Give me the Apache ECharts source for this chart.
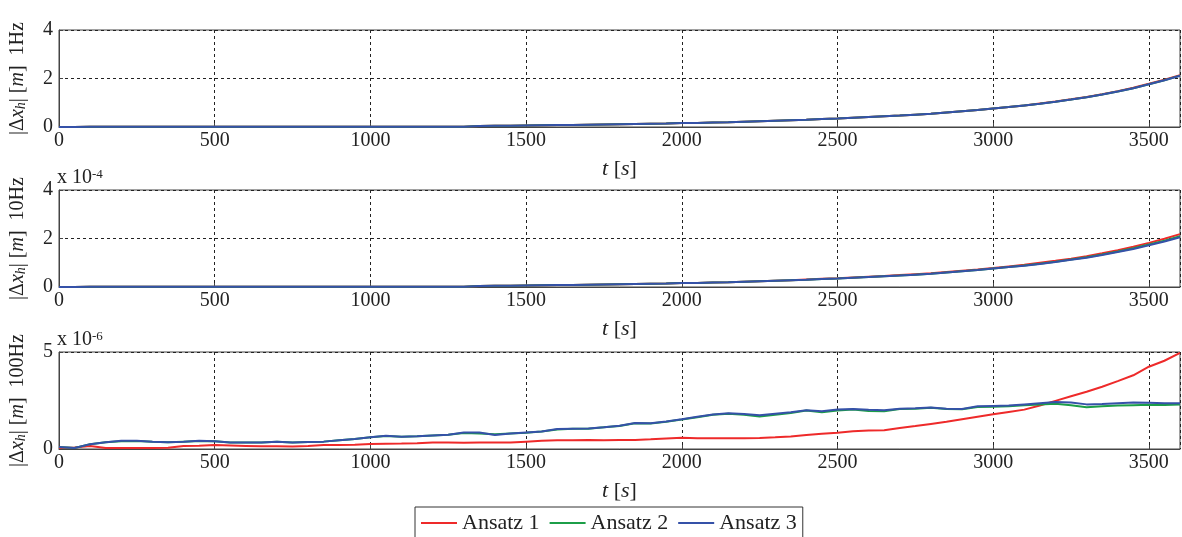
<!DOCTYPE html>
<html>
<head>
<meta charset="utf-8">
<script src="https://cdn.jsdelivr.net/npm/echarts@6/dist/echarts.min.js"></script>
<style>
  html, body { margin: 0; padding: 0; background: #fff; }
  #chart { width: 1182px; height: 537px; }
</style>
</head>
<body>
<div id="chart"></div>
<script>
// time stamps [s]
var times = [0, 50, 100, 150, 200, 250, 300, 350, 400, 450, 500, 550, 600, 650, 700, 750, 800, 850, 900, 950,
  1000, 1050, 1100, 1150, 1200, 1250, 1300, 1350, 1400, 1450, 1500, 1550, 1600, 1650, 1700, 1750, 1800, 1850, 1900, 1950,
  2000, 2050, 2100, 2150, 2200, 2250, 2300, 2350, 2400, 2450, 2500, 2550, 2600, 2650, 2700, 2750, 2800, 2850, 2900, 2950,
  3000, 3050, 3100, 3150, 3200, 3250, 3300, 3350, 3400, 3450, 3500, 3550, 3600];

// 1Hz  [m]
var hz1A1 = [0, 0, 0.01, 0.01, 0.01, 0.01, 0.01, 0.01, 0.01, 0.01, 0.01, 0.01, 0.01, 0.01, 0.01, 0.01, 0.01, 0.01, 0.01, 0.01,
  0.01, 0.01, 0.01, 0.01, 0.01, 0.01, 0.01, 0.04, 0.05, 0.05, 0.06, 0.07, 0.08, 0.08, 0.09, 0.1, 0.11, 0.12, 0.13, 0.14,
  0.16, 0.17, 0.19, 0.2, 0.22, 0.24, 0.26, 0.28, 0.3, 0.33, 0.35, 0.38, 0.41, 0.44, 0.47, 0.51, 0.55, 0.6, 0.65, 0.7,
  0.76, 0.82, 0.89, 0.97, 1.05, 1.14, 1.24, 1.35, 1.48, 1.62, 1.78, 1.95, 2.14];
var hz1A2 = [0, 0, 0.01, 0.01, 0.01, 0.01, 0.01, 0.01, 0.01, 0.01, 0.01, 0.01, 0.01, 0.01, 0.01, 0.01, 0.01, 0.01, 0.01, 0.01,
  0.01, 0.01, 0.01, 0.01, 0.01, 0.01, 0.01, 0.04, 0.05, 0.05, 0.06, 0.07, 0.08, 0.08, 0.09, 0.1, 0.11, 0.12, 0.13, 0.14,
  0.16, 0.17, 0.19, 0.2, 0.22, 0.24, 0.26, 0.28, 0.3, 0.33, 0.35, 0.38, 0.41, 0.44, 0.47, 0.51, 0.55, 0.6, 0.65, 0.7,
  0.76, 0.82, 0.89, 0.96, 1.04, 1.13, 1.23, 1.34, 1.46, 1.6, 1.76, 1.93, 2.12];
var hz1A3 = [0, 0, 0.01, 0.01, 0.01, 0.01, 0.01, 0.01, 0.01, 0.01, 0.01, 0.01, 0.01, 0.01, 0.01, 0.01, 0.01, 0.01, 0.01, 0.01,
  0.01, 0.01, 0.01, 0.01, 0.01, 0.01, 0.01, 0.04, 0.05, 0.05, 0.06, 0.07, 0.08, 0.08, 0.09, 0.1, 0.11, 0.12, 0.13, 0.14,
  0.16, 0.17, 0.19, 0.2, 0.22, 0.24, 0.26, 0.28, 0.3, 0.33, 0.35, 0.38, 0.41, 0.44, 0.47, 0.51, 0.55, 0.6, 0.65, 0.7,
  0.76, 0.82, 0.89, 0.96, 1.04, 1.13, 1.23, 1.34, 1.46, 1.6, 1.76, 1.93, 2.11];

// 10Hz  [x 1e-4 m]
var hz10A1 = [0, 0, 0.01, 0.01, 0.01, 0.01, 0.01, 0.01, 0.01, 0.01, 0.01, 0.01, 0.01, 0.01, 0.01, 0.01, 0.01, 0.01, 0.01, 0.01,
  0.01, 0.01, 0.01, 0.01, 0.01, 0.01, 0.01, 0.04, 0.05, 0.05, 0.06, 0.07, 0.08, 0.08, 0.09, 0.1, 0.11, 0.12, 0.13, 0.14,
  0.16, 0.17, 0.19, 0.2, 0.22, 0.24, 0.26, 0.28, 0.31, 0.34, 0.36, 0.39, 0.42, 0.45, 0.49, 0.53, 0.57, 0.62, 0.67, 0.72,
  0.78, 0.85, 0.92, 1.0, 1.08, 1.17, 1.27, 1.39, 1.52, 1.66, 1.82, 1.99, 2.18];
var hz10A2 = [0, 0, 0.01, 0.01, 0.01, 0.01, 0.01, 0.01, 0.01, 0.01, 0.01, 0.01, 0.01, 0.01, 0.01, 0.01, 0.01, 0.01, 0.01, 0.01,
  0.01, 0.01, 0.01, 0.01, 0.01, 0.01, 0.01, 0.04, 0.05, 0.05, 0.06, 0.07, 0.08, 0.08, 0.09, 0.1, 0.11, 0.12, 0.13, 0.14,
  0.16, 0.17, 0.19, 0.2, 0.22, 0.24, 0.26, 0.28, 0.3, 0.33, 0.35, 0.38, 0.41, 0.44, 0.47, 0.51, 0.55, 0.6, 0.65, 0.7,
  0.76, 0.82, 0.89, 0.96, 1.04, 1.13, 1.23, 1.34, 1.46, 1.6, 1.75, 1.91, 2.09];
var hz10A3 = [0, 0, 0.01, 0.01, 0.01, 0.01, 0.01, 0.01, 0.01, 0.01, 0.01, 0.01, 0.01, 0.01, 0.01, 0.01, 0.01, 0.01, 0.01, 0.01,
  0.01, 0.01, 0.01, 0.01, 0.01, 0.01, 0.01, 0.04, 0.05, 0.05, 0.06, 0.07, 0.08, 0.08, 0.09, 0.1, 0.11, 0.12, 0.13, 0.14,
  0.16, 0.17, 0.19, 0.2, 0.22, 0.24, 0.26, 0.28, 0.3, 0.33, 0.35, 0.38, 0.41, 0.44, 0.47, 0.51, 0.55, 0.6, 0.65, 0.7,
  0.76, 0.82, 0.88, 0.95, 1.03, 1.12, 1.21, 1.32, 1.44, 1.57, 1.72, 1.88, 2.05];

// 100Hz  [x 1e-6 m]
var hz100A1 = [0.05, 0.08, 0.15, 0.05, 0.05, 0.05, 0.05, 0.06, 0.15, 0.17, 0.2, 0.18, 0.16, 0.14, 0.14, 0.13, 0.15, 0.2, 0.2, 0.22,
  0.26, 0.27, 0.28, 0.3, 0.33, 0.33, 0.32, 0.33, 0.33, 0.34, 0.38, 0.42, 0.45, 0.45, 0.47, 0.45, 0.46, 0.47, 0.5, 0.54,
  0.58, 0.55, 0.56, 0.56, 0.56, 0.57, 0.6, 0.65, 0.72, 0.78, 0.84, 0.92, 0.95, 0.97, 1.08, 1.18, 1.29, 1.4, 1.53, 1.66,
  1.79, 1.91, 2.03, 2.24, 2.48, 2.72, 2.95, 3.21, 3.5, 3.8, 4.24, 4.55, 4.95];
var hz100A2 = [0.1, 0.05, 0.25, 0.35, 0.4, 0.41, 0.37, 0.35, 0.38, 0.41, 0.4, 0.33, 0.34, 0.33, 0.37, 0.34, 0.36, 0.38, 0.45, 0.52,
  0.6, 0.67, 0.63, 0.66, 0.7, 0.74, 0.82, 0.8, 0.76, 0.8, 0.84, 0.9, 1.01, 1.04, 1.05, 1.12, 1.19, 1.33, 1.32, 1.41,
  1.52, 1.64, 1.76, 1.82, 1.76, 1.68, 1.76, 1.86, 1.98, 1.9, 1.99, 2.04, 1.96, 1.95, 2.06, 2.08, 2.12, 2.06, 2.05, 2.16,
  2.18, 2.2, 2.26, 2.3, 2.33, 2.25, 2.15, 2.2, 2.24, 2.26, 2.28, 2.27, 2.29];
var hz100A3 = [0.1, 0.05, 0.25, 0.35, 0.42, 0.42, 0.38, 0.35, 0.38, 0.42, 0.4, 0.33, 0.34, 0.33, 0.38, 0.34, 0.36, 0.38, 0.45, 0.52,
  0.6, 0.68, 0.63, 0.66, 0.7, 0.74, 0.85, 0.85, 0.72, 0.8, 0.85, 0.9, 1.03, 1.05, 1.06, 1.12, 1.2, 1.34, 1.33, 1.42,
  1.53, 1.66, 1.78, 1.84, 1.8, 1.74, 1.82, 1.9, 2.0, 1.94, 2.03, 2.06, 2.02, 2.0, 2.08, 2.1, 2.14, 2.08, 2.06, 2.2,
  2.22, 2.24, 2.3, 2.36, 2.42, 2.4, 2.3, 2.32, 2.36, 2.4, 2.38, 2.36, 2.36];

var seriesNames = ['Ansatz 1', 'Ansatz 2', 'Ansatz 3'];
var colors = ['#ee2a2a', '#1c9e48', '#3551a8'];
var rateNames = ['1Hz', '10Hz', '100Hz'];

function pairs(vals) {
  return times.map(function (t, i) { return [t, vals[i]]; });
}

var font = 'Liberation Serif, DejaVu Serif, serif';
var rowTops = [30, 190, 352];
var rowH = 97;
var yMax = [4, 4, 5];
var yStep = [2, 2, 5];
var rows = [[hz1A1, hz1A2, hz1A3], [hz10A1, hz10A2, hz10A3], [hz100A1, hz100A2, hz100A3]];

var grids = [], xAxes = [], yAxes = [], series = [];
rowTops.forEach(function (top, r) {
  grids.push({ left: 57, right: 2, top: top, height: rowH, show: true, borderColor: '#444', borderWidth: 1, backgroundColor: '#fff' });
  xAxes.push({
    type: 'value', gridIndex: r, min: 0, max: 3600, interval: 500,
    name: '{i|t} [{i|s}]', nameLocation: 'middle', nameGap: 31,
    nameTextStyle: { fontFamily: font, fontSize: 22, color: '#222', rich: { i: { fontStyle: 'italic', fontFamily: font, fontSize: 22 } } },
    axisLine: { show: true, lineStyle: { color: '#444' } },
    axisTick: { show: true, inside: true, length: 4, lineStyle: { color: '#444' } },
    axisLabel: { fontFamily: font, fontSize: 20, color: '#222', margin: 4, showMaxLabel: false,
      formatter: function (v) { return String(v); } },
    splitLine: { show: true, lineStyle: { type: [3, 3], color: '#222', width: 1 } }
  });
  yAxes.push({
    type: 'value', gridIndex: r, min: 0, max: yMax[r], interval: yStep[r],
    name: '|Δ{i|x}{s|h}| [{i|m}]  ' + rateNames[r], nameLocation: 'middle', nameGap: 31, nameRotate: 90,
    nameTextStyle: {
      fontFamily: font, fontSize: 20, color: '#222',
      rich: {
        i: { fontStyle: 'italic', fontFamily: font, fontSize: 20 },
        s: { fontStyle: 'italic', fontFamily: font, fontSize: 14, verticalAlign: 'bottom' }
      }
    },
    axisLine: { show: true, lineStyle: { color: '#444' } },
    axisTick: { show: true, inside: true, length: 4, lineStyle: { color: '#444' } },
    axisLabel: { fontFamily: font, fontSize: 20, color: '#222', margin: 6 },
    splitLine: { show: true, lineStyle: { type: [3, 3], color: '#222', width: 1 } }
  });
  rows[r].forEach(function (vals, k) {
    series.push({
      name: seriesNames[k], type: 'line', xAxisIndex: r, yAxisIndex: r,
      data: pairs(vals), symbol: 'none', animation: false,
      lineStyle: { color: colors[k], width: 2 }, itemStyle: { color: colors[k] }
    });
  });
});

var chart = echarts.init(document.getElementById('chart'));
chart.setOption({
  animation: false,
  grid: grids,
  xAxis: xAxes,
  yAxis: yAxes,
  series: series,
  legend: {
    data: seriesNames.map(function (n) { return { name: n, icon: 'rect' }; }),
    left: 415, top: 507,
    backgroundColor: '#fff', borderColor: '#333', borderWidth: 1,
    padding: [5, 6, 10, 6], itemGap: 10, itemWidth: 36, itemHeight: 2,
    textStyle: { fontFamily: font, fontSize: 22, color: '#222' }
  },
  graphic: [
    { type: 'text', left: 57, top: 168, style: { text: 'x 10{p|-4}', font: '20px ' + font, fill: '#222',
      rich: { p: { fontSize: 13, fontFamily: font, verticalAlign: 'top' } } } },
    { type: 'text', left: 57, top: 330, style: { text: 'x 10{p|-6}', font: '20px ' + font, fill: '#222',
      rich: { p: { fontSize: 13, fontFamily: font, verticalAlign: 'top' } } } }
  ]
});
</script>
</body>
</html>
